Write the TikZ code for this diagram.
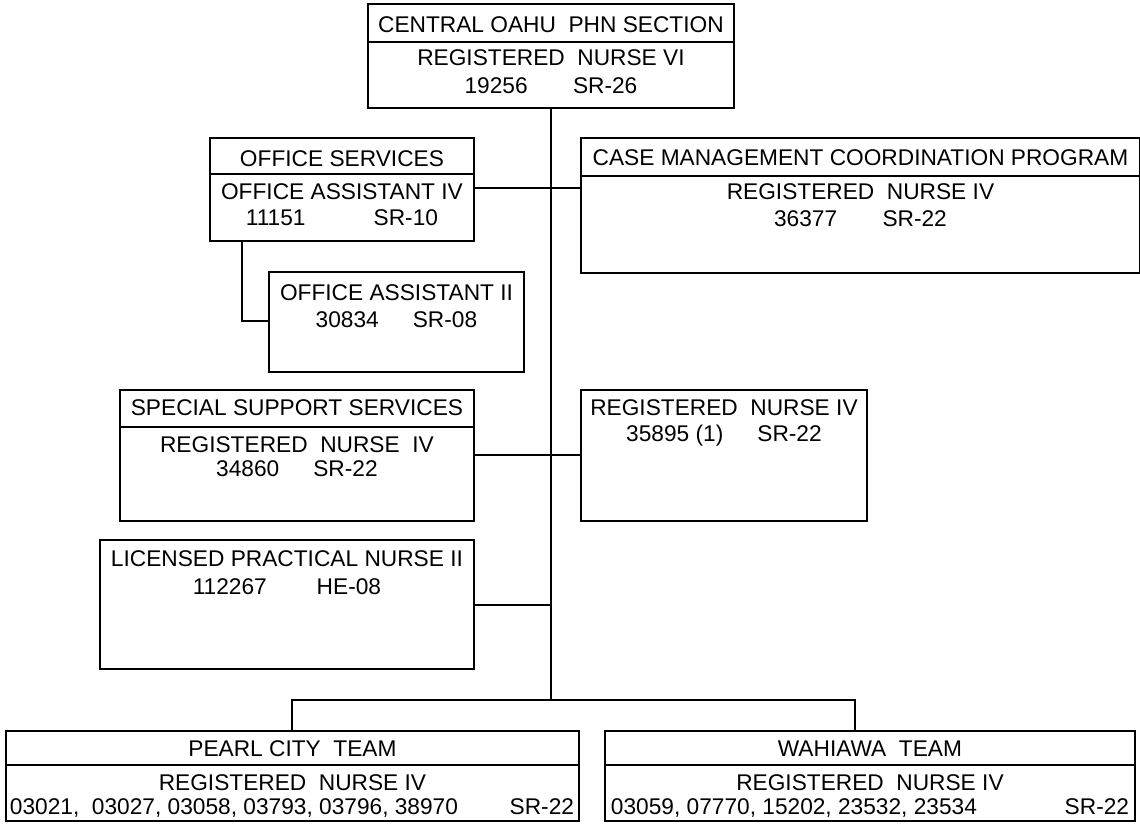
\documentclass[tikz,border=0pt]{standalone}
\usepackage{fontspec}
\setmainfont{Liberation Sans}

\begin{document}
\begin{tikzpicture}[x=1pt,y=-1pt,line width=1.9pt]
			\tikzstyle{block} = [rectangle, draw, inner sep=0pt, anchor=north west];
			\tikzstyle{txt} = [inner sep=0pt, anchor=base, font=\fontsize{22.7}{26}\selectfont];
			\tikzstyle{rule} = [line width=1.1pt];
			\useasboundingbox (0,0) rectangle (1140,833);

			\draw node [block, minimum width=366, minimum height=104] (sect) at (367,3) {};
			\draw node [block, minimum width=264, minimum height=103] (offsvc) at (209,137) {};
			\draw node [block, minimum width=559, minimum height=135] (cmcp) at (580,137) {};
			\draw node [block, minimum width=255, minimum height=100] (oa2) at (268,271) {};
			\draw node [block, minimum width=354, minimum height=131] (sss) at (119,389) {};
			\draw node [block, minimum width=286, minimum height=131] (rn4) at (580,389) {};
			\draw node [block, minimum width=374, minimum height=129] (lpn) at (99,539) {};
			\draw node [block, minimum width=573, minimum height=90] (pearl) at (5,730) {};
			\draw node [block, minimum width=530, minimum height=90] (wah) at (604,730) {};

			% title rules
			\draw [rule] ([yshift=-39pt]sect.north west) -- ([yshift=-39pt]sect.north east);
			\draw [rule] ([yshift=-37pt]offsvc.north west) -- ([yshift=-37pt]offsvc.north east);
			\draw [rule] ([yshift=-39pt]cmcp.north west) -- ([yshift=-39pt]cmcp.north east);
			\draw [rule] ([yshift=-38pt]sss.north west) -- ([yshift=-38pt]sss.north east);
			\draw [rule] ([yshift=-35pt]pearl.north west) -- ([yshift=-35pt]pearl.north east);
			\draw [rule] ([yshift=-35pt]wah.north west) -- ([yshift=-35pt]wah.north east);

			\node [txt] (sect1) at (sect.center |- 0,32) {CENTRAL OAHU\ \ PHN SECTION};
			\node [txt] (sect2) at (sect.center |- 0,65) {REGISTERED\ \ NURSE VI};
			\node [txt] (sect3) at (sect.center |- 0,93) {19256\hspace{2em}SR-26};

			\node [txt] (offsvc1) at (offsvc.center |- 0,166) {OFFICE SERVICES};
			\node [txt] (offsvc2) at (offsvc.center |- 0,199) {OFFICE ASSISTANT IV};
			\node [txt] (offsvc3) at (offsvc.center |- 0,225) {11151\hspace{3em}SR-10};

			\node [txt] (cmcp1) at (cmcp.center |- 0,165) {CASE MANAGEMENT COORDINATION PROGRAM};
			\node [txt] (cmcp2) at (cmcp.center |- 0,199) {REGISTERED\ \ NURSE IV};
			\node [txt] (cmcp3) at (cmcp.center |- 0,226) {36377\hspace{2em}SR-22};

			\node [txt] (oa21) at (oa2.center |- 0,300) {OFFICE ASSISTANT II};
			\node [txt] (oa22) at (oa2.center |- 0,327) {30834\hspace{1.5em}SR-08};

			\node [txt] (sss1) at (sss.center |- 0,415) {SPECIAL SUPPORT SERVICES};
			\node [txt] (sss2) at (sss.center |- 0,452) {REGISTERED\ \ NURSE\ \ IV};
			\node [txt] (sss3) at (sss.center |- 0,476) {34860\hspace{1.5em}SR-22};

			\node [txt] (rn41) at (rn4.center |- 0,415) {REGISTERED\ \ NURSE IV};
			\node [txt] (rn42) at (rn4.center |- 0,441) {35895 (1)\hspace{1.5em}SR-22};

			\node [txt] (lpn1) at (lpn.center |- 0,566) {LICENSED PRACTICAL NURSE II};
			\node [txt] (lpn2) at (lpn.center |- 0,594) {112267\hspace{2.2em}HE-08};

			\node [txt] (pearl1) at (pearl.center |- 0,756) {PEARL CITY\ \ TEAM};
			\node [txt] (pearl2) at (pearl.center |- 0,790) {REGISTERED\ \ NURSE IV};
			\node [txt, anchor=base west] (pearl3) at (9,814) {03021,\ \ 03027, 03058, 03793, 03796, 38970};
			\node [txt, anchor=base east] (pearl4) at (575,814) {SR-22};

			\node [txt] (wah1) at (wah.center |- 0,756) {WAHIAWA\ \ TEAM};
			\node [txt] (wah2) at (wah.center |- 0,790) {REGISTERED\ \ NURSE IV};
			\node [txt, anchor=base west] (wah3) at (610,814) {03059, 07770, 15202, 23532, 23534};
			\node [txt, anchor=base east] (wah4) at (1130,814) {SR-22};

			\coordinate (spine) at (551,700);
			\coordinate (j1) at (551,188);
			\coordinate (j2) at (242,321);
			\coordinate (j3) at (551,455);
			\coordinate (j4) at (551,605);
			\coordinate (j5) at (292,700);
			\coordinate (j6) at (855,700);

			\draw (sect.south -| spine) -- (spine);
			\draw (offsvc.east |- j1) -- (cmcp.west |- j1);
			\draw (j2 |- offsvc.south) |- (oa2.west |- j2);
			\draw (sss.east |- j3) -- (rn4.west |- j3);
			\draw (lpn.east |- j4) -- (j4);
			\draw (pearl.north -| j5) -- (j5) -- (j6) -- (wah.north -| j6);

		\end{tikzpicture}
\end{document}
